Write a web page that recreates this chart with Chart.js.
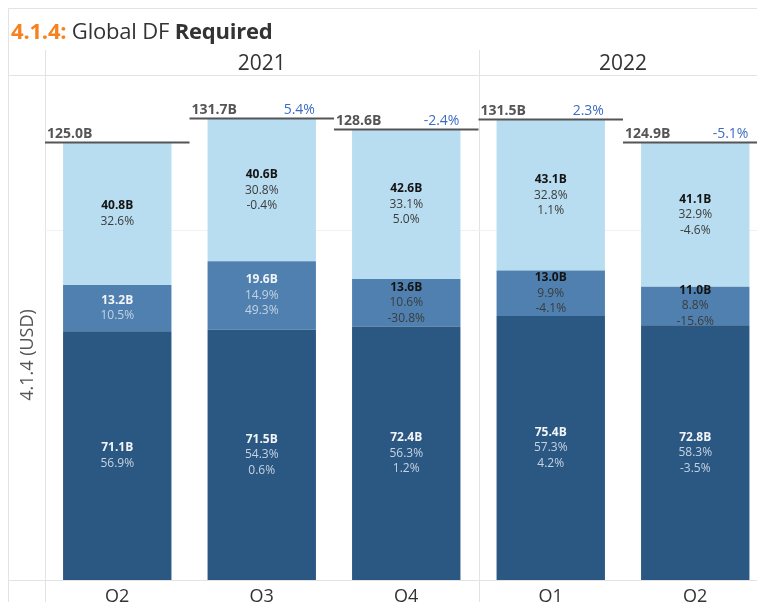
<!DOCTYPE html>
<html>
<head>
<meta charset="utf-8">
<script src="https://cdn.jsdelivr.net/npm/chart.js@4"></script>
<style>
  body { margin: 0; overflow: hidden; background: #fff; }
  #wrap { position: absolute; left: 0; top: 0; width: 770px; height: 602px; }
  #title { position: absolute; left: 11px; top: 15px; font: 22px "Open Sans", sans-serif; color: #333; z-index: 2; letter-spacing: -0.2px; }
  #title .num { color: #f5821f; font-weight: bold; }
</style>
</head>
<body>
<div id="title"><span class="num">4.1.4:</span> Global DF <b>Required</b></div>
<div id="wrap"><canvas id="myChart"></canvas></div>
<script>
// donnees (en milliards USD)
const quarters = ['Q2', 'Q3', 'Q4', 'Q1', 'Q2'];
const years = ['2021', '2022'];
const yearOfQuarter = [0, 0, 0, 1, 1];

const darkValues = [71.1, 71.5, 72.4, 75.4, 72.8];
const darkShare = ['56.9%', '54.3%', '56.3%', '57.3%', '58.3%'];
const darkChange = [null, '0.6%', '1.2%', '4.2%', '-3.5%'];

const midValues = [13.2, 19.6, 13.6, 13.0, 11.0];
const midShare = ['10.5%', '14.9%', '10.6%', '9.9%', '8.8%'];
const midChange = [null, '49.3%', '-30.8%', '-4.1%', '-15.6%'];

const lightValues = [40.8, 40.6, 42.6, 43.1, 41.1];
const lightShare = ['32.6%', '30.8%', '33.1%', '32.8%', '32.9%'];
const lightChange = [null, '-0.4%', '5.0%', '1.1%', '-4.6%'];

const totals = [125.0, 131.7, 128.6, 131.5, 124.9];
const totalChange = [null, '5.4%', '-2.4%', '2.3%', '-5.1%'];

const ctx = document.getElementById('myChart');

const font = '"Open Sans", sans-serif';

// couleurs du texte des segments
const labelStyles = [
  { bold: '#f2f4f7', normal: '#c5d3e2' },
  { bold: '#f2f4f7', normal: '#c5d3e2' },
  { bold: '#141414', normal: '#3c3c3c' }
];
const midDarkText = [false, false, true, true, true];

const fmt = v => v.toFixed(1) + 'B';

const labelsPlugin = {
  id: 'tableauLook',
  beforeDatasetsDraw(chart) {
    const c = chart.ctx;
    const area = chart.chartArea;
    const x = chart.scales.x;
    const y = chart.scales.y;
    const step = x.getPixelForValue(1) - x.getPixelForValue(0);
    c.save();
    c.strokeStyle = '#e3e3e3';
    c.lineWidth = 1;
    c.beginPath();
    // cadre
    c.moveTo(8, 8.5); c.lineTo(chart.width, 8.5);
    c.moveTo(8.5, 8); c.lineTo(8.5, chart.height);
    // ligne d'en-tete
    c.moveTo(8, 75.5); c.lineTo(chart.width, 75.5);
    // separateurs
    c.moveTo(Math.round(area.left) + 0.5, 50); c.lineTo(Math.round(area.left) + 0.5, chart.height);
    const sep = Math.round(x.getPixelForValue(3) - step / 2) + 0.5;
    c.moveTo(sep, 50); c.lineTo(sep, chart.height);
    // axe du bas
    c.moveTo(8, Math.round(area.bottom) + 0.5); c.lineTo(chart.width, Math.round(area.bottom) + 0.5);
    c.stroke();
    // grille a 100B
    c.strokeStyle = '#f1f1f1';
    c.beginPath();
    const g = Math.round(y.getPixelForValue(100)) + 0.5;
    c.moveTo(area.left, g); c.lineTo(chart.width, g);
    c.stroke();
    c.restore();
  },
  afterDatasetsDraw(chart) {
    const c = chart.ctx;
    const area = chart.chartArea;
    const x = chart.scales.x;
    const y = chart.scales.y;
    const step = x.getPixelForValue(1) - x.getPixelForValue(0);
    c.save();
    c.textAlign = 'center';
    c.textBaseline = 'middle';

    const segs = [
      [darkValues, darkShare, darkChange],
      [midValues, midShare, midChange],
      [lightValues, lightShare, lightChange]
    ];
    segs.forEach((s, di) => {
      const meta = chart.getDatasetMeta(di);
      meta.data.forEach((bar, i) => {
        const lines = [fmt(s[0][i]), s[1][i]];
        if (s[2][i]) lines.push(s[2][i]);
        let st = labelStyles[di];
        if (di === 1) st = midDarkText[i] ? labelStyles[2] : labelStyles[0];
        const cy = (bar.y + bar.base) / 2;
        const lh = 15.5;
        const start = cy - (lines.length - 1) * lh / 2;
        lines.forEach((t, k) => {
          c.font = (k === 0 ? 'bold ' : '') + '12px ' + font;
          c.fillStyle = k === 0 ? st.bold : st.normal;
          c.fillText(t, bar.x, start + k * lh);
        });
      });
    });

    // lignes de total
    const meta = chart.getDatasetMeta(2);
    totals.forEach((t, i) => {
      const cx = x.getPixelForValue(i);
      const left = cx - step / 2;
      const right = cx + step / 2;
      const ly = Math.round(y.getPixelForValue(t)) - 0.5;
      c.strokeStyle = '#555';
      c.lineWidth = 2;
      c.beginPath();
      c.moveTo(left, ly); c.lineTo(right, ly);
      c.stroke();
      c.textBaseline = 'alphabetic';
      c.textAlign = 'left';
      c.font = 'bold 14px ' + font;
      c.fillStyle = '#555';
      c.fillText(fmt(t), left + 2, ly - 5);
      if (totalChange[i]) {
        const bar = meta.data[i];
        c.textAlign = 'right';
        c.font = '14px ' + font;
        c.fillStyle = '#3d6cc4';
        c.fillText(totalChange[i], bar.x + bar.width / 2 - 1, ly - 5);
      }
    });

    // annees
    c.textAlign = 'center';
    c.textBaseline = 'middle';
    c.font = '21px ' + font;
    c.fillStyle = '#333';
    years.forEach((yr, k) => {
      const idx = [];
      yearOfQuarter.forEach((v, i) => { if (v === k) idx.push(i); });
      const cx = (x.getPixelForValue(idx[0]) + x.getPixelForValue(idx[idx.length - 1])) / 2;
      c.fillText(yr, cx, 64);
    });

    // trimestres
    c.font = '18px ' + font;
    quarters.forEach((q, i) => {
      c.fillText(q, x.getPixelForValue(i), area.bottom + 17);
    });

    // titre de l'axe y
    c.translate(28, 355);
    c.rotate(-Math.PI / 2);
    c.font = '18px ' + font;
    c.fillStyle = '#555';
    c.fillText('4.1.4 (USD)', 0, 0);
    c.restore();
  }
};

new Chart(ctx, {
  type: 'bar',
  data: {
    labels: quarters,
    datasets: [
      { label: 'dark', data: darkValues, backgroundColor: '#2b5783' },
      { label: 'mid', data: midValues, backgroundColor: '#4f80b0' },
      { label: 'light', data: lightValues, backgroundColor: '#b8dcf0' }
    ]
  },
  options: {
    responsive: true,
    maintainAspectRatio: false,
    animation: false,
    layout: { padding: { left: 45, right: 2.5, top: 76, bottom: 22 } },
    datasets: { bar: { categoryPercentage: 1, barPercentage: 0.75, borderWidth: 0 } },
    plugins: { legend: { display: false }, tooltip: { enabled: false } },
    scales: {
      x: { display: false, stacked: true },
      y: { display: false, stacked: true, min: 0, max: 144 }
    }
  },
  plugins: [labelsPlugin]
});
</script>
</body>
</html>
